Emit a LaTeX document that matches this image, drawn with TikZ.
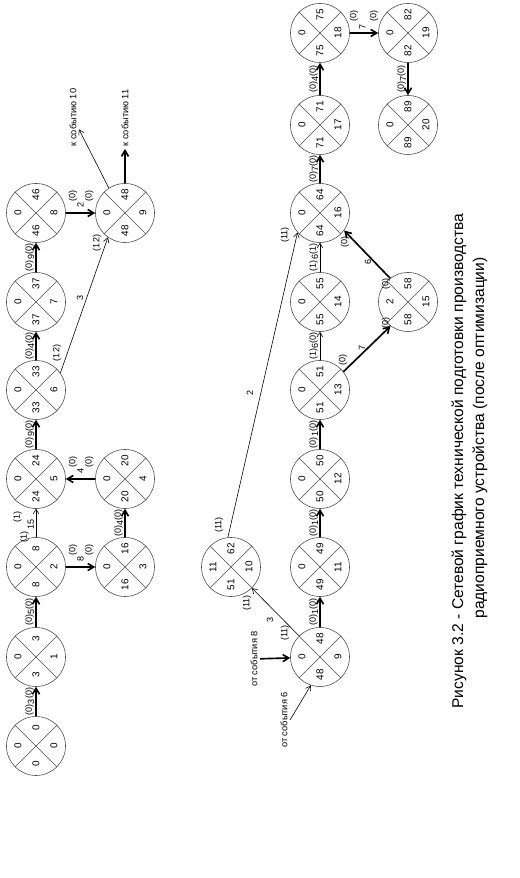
\documentclass[tikz,border=0pt]{standalone}
\usepackage{fontspec}
\setmainfont{Liberation Sans}
\usetikzlibrary{arrows.meta}

\newcommand{\labfont}{\fontsize{7.7}{9}\selectfont}
\tikzset{
	eventnode/.style={circle, draw=black!70, line width=0.5pt, minimum size=1.77cm, inner sep=0pt,
		path picture={\draw[black!70, line width=0.5pt]
			(path picture bounding box.north west) -- (path picture bounding box.south east)
			(path picture bounding box.north east) -- (path picture bounding box.south west);}},
	qnum/.style={font=\fontsize{8.5}{10}\selectfont, inner sep=0pt},
	crit/.style={-{Straight Barb[length=5pt,width=6pt]}, line width=1.4pt},
	slack/.style={-{Straight Barb[length=4pt,width=5pt]}, line width=0.5pt},
	lab/.style={font=\labfont, inner sep=0pt},
	hlab/.style={lab, anchor=base, yshift=3.5pt},
	vnum/.style={lab, anchor=west, xshift=4pt},
	vres/.style={lab, anchor=west, xshift=9.5pt},
	farnode/.style={font=\fontsize{7.9}{9}\selectfont, inner sep=2pt},
	titlefont/.style={font=\fontsize{13.3}{17}\selectfont, inner sep=0pt}
}
% event circle: name, u, v, number, early, late, reserve
\newcommand{\evnode}[7]{%
	\node[eventnode] (#1) at (#2,#3) {};
	\node[qnum] (#1-r) at (#2,#3+18) {#7};
	\node[qnum] (#1-e) at (#2-18,#3) {#5};
	\node[qnum] (#1-l) at (#2+18,#3) {#6};
	\node[qnum] (#1-n) at (#2,#3-18) {#4};
}

\begin{document}
\begin{tikzpicture}[rotate=90, transform shape, x=0.03cm, y=0.03cm]
	\useasboundingbox (0,-519) rectangle (878,0);
	
	%Events
	\evnode{e0}{132}{-36}{0}{0}{0}{0}
	\evnode{e1}{221}{-36}{1}{3}{3}{0}
	\evnode{e2}{311}{-36}{2}{8}{8}{0}
	\evnode{e5}{399}{-36}{5}{24}{24}{0}
	\evnode{e6}{488}{-36}{6}{33}{33}{0}
	\evnode{e7}{576}{-36}{7}{37}{37}{0}
	\evnode{e8}{665}{-36}{8}{46}{46}{0}
	\evnode{e3}{311}{-125}{3}{16}{16}{0}
	\evnode{e4}{399}{-125}{4}{20}{20}{0}
	\evnode{e9}{665}{-125}{9}{48}{48}{0}
	\evnode{e10}{311}{-231}{10}{51}{62}{11}
	\evnode{e9b}{221}{-320}{9}{48}{48}{0}
	\evnode{e11}{311}{-320}{11}{49}{49}{0}
	\evnode{e12}{399}{-320}{12}{50}{50}{0}
	\evnode{e13}{488}{-320}{13}{51}{51}{0}
	\evnode{e14}{576}{-320}{14}{55}{55}{0}
	\evnode{e16}{665}{-320}{16}{64}{64}{0}
	\evnode{e17}{753}{-320}{17}{71}{71}{0}
	\evnode{e18}{845}{-320}{18}{75}{75}{0}
	\evnode{e15}{576}{-408}{15}{58}{58}{2}
	\evnode{e19}{845}{-408}{19}{82}{82}{0}
	\evnode{e20}{753}{-408}{20}{89}{89}{0}
	
	\node[farnode, anchor=west] (t10) at (729,-73) {к событию 10};
	\node[farnode, anchor=west] (t11) at (729,-125) {к событию 11};
	\node[farnode] (from8) at (219,-254) {от события 8};
	\node[farnode] (from6) at (158,-284) {от события 6};
	
	%Upper chain
	\draw[crit] (e0) -- node[hlab] (a01) {(0)\raisebox{-2pt}{3}(0)} (e1);
	\draw[crit] (e1) -- node[hlab] (a12) {(0)\raisebox{-2pt}{5}(0)} (e2);
	\draw[slack] (e2) -- node[lab, pos=0, anchor=south, yshift=6pt] (a25s) {(1)}
		node[lab, pos=.43, anchor=south, yshift=1.5pt] (a25) {15}
		node[lab, pos=.7, anchor=south, yshift=12pt] (a25e) {(1)} (e5);
	\draw[crit] (e2) -- node[vres, pos=.25] (a23s) {(0)} node[vnum, pos=.5] (a23) {8}
		node[vres, pos=.8] (a23e) {(0)} (e3);
	\draw[crit] (e3) -- node[hlab] (a34) {(0)\raisebox{-2pt}{4}(0)} (e4);
	\draw[crit] (e4) -- node[vres, pos=.2] (a45s) {(0)} node[vnum, pos=.5] (a45) {4}
		node[vres, pos=.75] (a45e) {(0)} (e5);
	\draw[crit] (e5) -- node[hlab] (a56) {(0)\raisebox{-2pt}{9}(0)} (e6);
	\draw[crit] (e6) -- node[hlab] (a67) {(0)\raisebox{-2pt}{4}(0)} (e7);
	\draw[crit] (e7) -- node[hlab] (a78) {(0)\raisebox{-2pt}{9}(0)} (e8);
	\draw[crit] (e8) -- node[vres, pos=.25] (a89s) {(0)} node[vnum, pos=.5] (a89) {2}
		node[vres, pos=.8] (a89e) {(0)} (e9);
	\draw[slack] (e6.-55) -- (e9.145);
	\node[lab] (a69s) at (525,-57) {(12)};
	\node[lab] (a69) at (580,-80) {3};
	\node[lab] (a69e) at (635,-97) {(12)};
	\draw[slack] (e9.33) -- (t10);
	\draw[crit] (e9) -- (t11);
	
	%Lower chain
	\draw[crit] (from8) -- (e9b);
	\draw[slack] (from6.south) -- (e9b.162);
	\draw[slack] (e9b) -- (e10);
	\node[lab] (a910s) at (245,-285) {(11)};
	\node[lab] (a910) at (258,-270) {3};
	\node[lab] (a910e) at (275,-247) {(11)};
	\draw[slack] (e10.6) -- (e16.131);
	\node[lab] (a1016s) at (353,-219) {(11)};
	\node[lab] (a1016) at (485,-250) {2};
	\node[lab] (a1016e) at (643,-285) {(11)};
	\draw[crit] (e9b) -- node[hlab] (a911) {(0)\raisebox{-2pt}{1}(0)} (e11);
	\draw[crit] (e11) -- node[hlab] (a1112) {(0)\raisebox{-2pt}{1}(0)} (e12);
	\draw[crit] (e12) -- node[hlab] (a1213) {(0)\raisebox{-2pt}{1}(0)} (e13);
	\draw[slack] (e13) -- node[hlab] (a1314) {(1)\raisebox{-2pt}{6}(0)} (e14);
	\draw[slack] (e14) -- node[hlab] (a1416) {(1)\raisebox{-2pt}{6}(1)} (e16);
	\draw[crit] (e13.-52) -- (e15.144);
	\node[lab] (a1315s) at (518,-343) {(0)};
	\node[lab] (a1315) at (530,-362) {7};
	\node[lab] (a1315e) at (555,-386) {(0)};
	\draw[crit] (e15.37) -- (e16.234);
	\node[lab] (a1516s) at (594,-386) {(0)};
	\node[lab] (a1516) at (616,-368) {6};
	\node[lab] (a1516e) at (636,-345) {(0)};
	\draw[crit] (e16) -- node[hlab] (a1617) {(0)\raisebox{-2pt}{7}(0)} (e17);
	\draw[crit] (e17) -- node[hlab] (a1718) {(0)\raisebox{-2pt}{4}(0)} (e18);
	\draw[crit] (e18) -- node[vres, pos=.15] (a1819s) {(0)} node[vnum, pos=.45, xshift=-1.5pt] (a1819) {7}
		node[vres, pos=.85] (a1819e) {(0)} (e19);
	\draw[crit] (e19) -- node[hlab] (a1920) {(0)\raisebox{-2pt}{7}(0)} (e20);
	
	%Caption
	\node[titlefont, anchor=base] (title1) at (417,-463) {Рисунок 3.2 - Сетевой график технической подготовки производства};
	\node[titlefont, anchor=base] (title2) at (440,-484) {радиоприемного устройства (после оптимизации)};
\end{tikzpicture}
\end{document}
